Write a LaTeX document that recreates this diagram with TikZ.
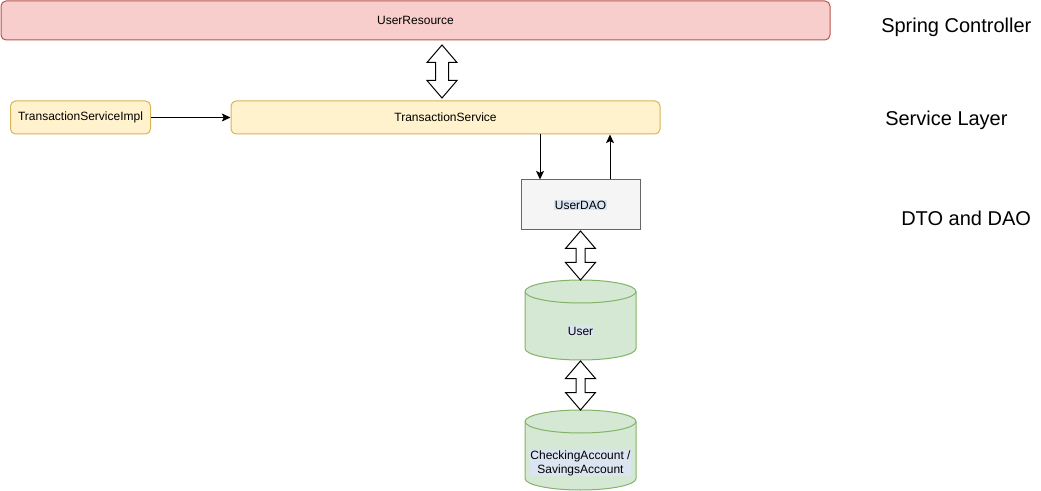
\documentclass[tikz,border=0pt]{standalone}
\usepackage{fontspec}
\setmainfont{Liberation Sans}
\usetikzlibrary{arrows.meta}
\definecolor{redfill}{HTML}{F8CECC}
\definecolor{redline}{HTML}{B85450}
\definecolor{yelfill}{HTML}{FFF2CC}
\definecolor{yelline}{HTML}{D6B656}
\definecolor{grayfill}{HTML}{F5F5F5}
\definecolor{grayline}{HTML}{666666}
\definecolor{grnfill}{HTML}{D5E8D4}
\definecolor{grnline}{HTML}{82B366}
\definecolor{hlblue}{HTML}{DAE5F1}
\newcommand\dArrow[4]{%
  \draw[dblarr] (#1,#2) -- (#1+15,#2+17.5) -- (#1+#4,#2+17.5) -- (#1+#4,#3-17.5)
    -- (#1+15,#3-17.5) -- (#1,#3) -- (#1-15,#3-17.5) -- (#1-#4,#3-17.5)
    -- (#1-#4,#2+17.5) -- (#1-15,#2+17.5) -- cycle;}
\tikzset{
  every node/.style={font=\fontsize{9pt}{10.5pt}\selectfont, inner sep=0pt},
  box/.style={draw, line width=0.75pt, rounded corners=3.75pt},
  redbox/.style={box, fill=redfill, draw=redline},
  yelbox/.style={box, fill=yelfill, draw=yelline},
  graybox/.style={draw=grayline, fill=grayfill, line width=0.75pt},
  cyl/.style={draw=grnline, fill=grnfill, line width=0.75pt},
  arr/.style={line width=0.75pt, -{Stealth[length=6.5pt, width=6pt, inset=1.5pt]}},
  dblarr/.style={line width=0.75pt, draw=black, fill=white, line join=miter},
  hl/.style={fill=hlblue, inner sep=0.6pt, align=center},
  lbl/.style={font=\fontsize{15pt}{18pt}\selectfont, anchor=base west}
}
\begin{document}
\begin{tikzpicture}[x=0.75pt, y=-0.75pt]
\useasboundingbox (0,0) rectangle (1041,491);

% boxes
\node[redbox, minimum width=621.75pt, minimum height=29.25pt] (ur) at (415.5,20.5) {UserResource};
\node[yelbox, minimum width=105pt, minimum height=24.75pt] (tsi) at (80.5,117.5) {TransactionServiceImpl};
\node[yelbox, minimum width=321.75pt, minimum height=24.75pt] (ts) at (445.5,117.5) {TransactionService};
\node[graybox, minimum width=89.25pt, minimum height=37.5pt] (dao) at (580.5,205) {};
\node[hl] (daotxt) at (dao.center) {UserDAO};

% cylinder User
\path[cyl] (525,291.5) -- (525,348.5)
  .. controls (525,354.85) and (549.85,360) .. (580.5,360)
  .. controls (611.15,360) and (636,354.85) .. (636,348.5)
  -- (636,291.5)
  .. controls (636,285.15) and (611.15,280) .. (580.5,280)
  .. controls (549.85,280) and (525,285.15) .. (525,291.5) -- cycle;
\draw[cyl, fill=none] (525,291.5)
  .. controls (525,297.85) and (549.85,303) .. (580.5,303)
  .. controls (611.15,303) and (636,297.85) .. (636,291.5);
\node[minimum width=83.25pt, minimum height=60pt] (user) at (580.5,320) {};
\node[hl] (usertxt) at (580.5,331) {User};

% cylinder CheckingAccount
\path[cyl] (525,421.5) -- (525,478.5)
  .. controls (525,484.85) and (549.85,490) .. (580.5,490)
  .. controls (611.15,490) and (636,484.85) .. (636,478.5)
  -- (636,421.5)
  .. controls (636,415.15) and (611.15,410) .. (580.5,410)
  .. controls (549.85,410) and (525,415.15) .. (525,421.5) -- cycle;
\draw[cyl, fill=none] (525,421.5)
  .. controls (525,427.85) and (549.85,433) .. (580.5,433)
  .. controls (611.15,433) and (636,427.85) .. (636,421.5);
\node[minimum width=83.25pt, minimum height=60pt] (acct) at (580.5,450) {};
\node[hl] (accttxt) at (580.5,463) {CheckingAccount /\\SavingsAccount};

% connectors
\draw[arr] (tsi.east) -- (ts.west);
\coordinate (xdown) at (540,0);
\coordinate (xup) at (610,0);
\draw[arr] (ts.south -| xdown) -- (dao.north -| xdown);
\draw[arr] (dao.north -| xup) -- (ts.south -| xup);

% double arrows
\dArrow{442}{45}{98}{6.5}
\dArrow{580.5}{231}{280}{4.5}
\dArrow{580.5}{361}{410}{4.5}

% layer labels
\node[lbl] (l1) at (881,33) {Spring Controller};
\node[lbl] (l2) at (885,126) {Service Layer};
\node[lbl] (l3) at (901,226) {DTO and DAO};
\end{tikzpicture}
\end{document}
